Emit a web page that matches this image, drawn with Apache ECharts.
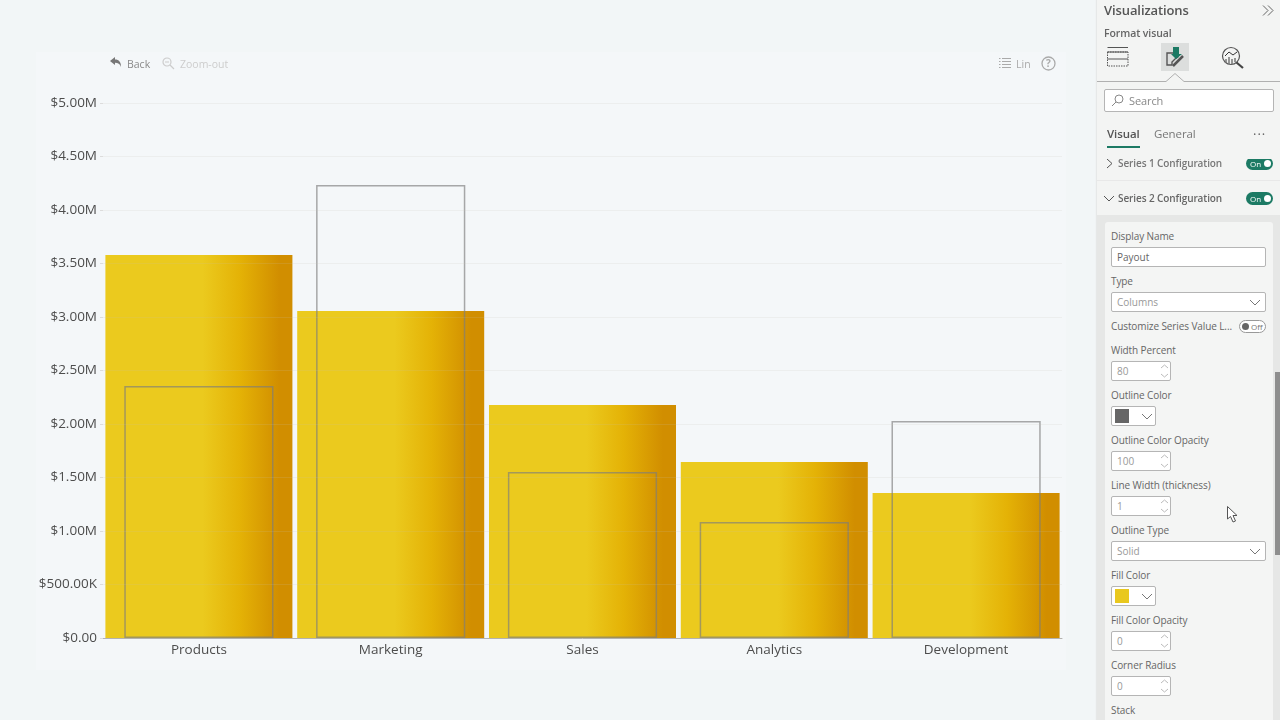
<!DOCTYPE html>
<html>
<head>
<meta charset="utf-8">
<title>Payout by department</title>
<script src="https://cdn.jsdelivr.net/npm/echarts@6/dist/echarts.min.js"></script>
<style>
  html, body { margin: 0; padding: 0; width: 1280px; height: 720px; overflow: hidden; background: #f2f6f7; font-family: "Open Sans", "Noto Sans", sans-serif; color: #555; }
  #area { position: absolute; left: 36px; top: 52px; width: 1030px; height: 618px; background: #f4f7f9; }
  #main { position: absolute; left: 0; top: 0; width: 1280px; height: 720px; }
  #tools, #panel { position: absolute; font-size: 10.5px; }
  #tools { left: 0; top: 0; }
  .t { position: absolute; white-space: nowrap; line-height: 14px; }
  #panel { left: 1097px; top: 0; width: 183px; height: 720px; background: #f3f4f3; box-shadow: -1px 0 1px #e6e8e8; overflow: hidden; }
  #panel .t { color: #666; font-size: 10px; letter-spacing: -0.1px; }
  .box { position: absolute; box-sizing: border-box; background: #fff; border: 1px solid #b5b5b5; border-radius: 2px; color: #999; font-size: 10px; line-height: 18px; padding-left: 5px; }
  .toggle { position: absolute; box-sizing: border-box; width: 27px; height: 13px; border-radius: 7px; background: #1c7a64; color: #fff; font-size: 8px; line-height: 13px; padding-left: 4px; }
  .toggle i { position: absolute; right: 2px; top: 3px; width: 7px; height: 7px; border-radius: 50%; background: #fff; }
  .off { background: #fff; border: 1px solid #999; color: #777; padding-left: 11px; line-height: 11px; }
  .off i { left: 2px; right: auto; top: 2px; background: #666; }
  svg { position: absolute; overflow: visible; }
</style>
</head>
<body>
<div id="area"></div>
<div id="main"></div>
<div id="tools">
  <svg style="left:109px;top:56px" width="13" height="13" viewBox="0 0 13 13"><path d="M1 5 L6 1 V3.5 C10 3.5 12 6 12 11 C11 8 9 6.8 6 6.8 V9 Z" fill="#777"/></svg>
  <div class="t" style="left:127px;top:57px;color:#8a8a8a">Back</div>
  <svg style="left:162px;top:57px" width="13" height="13" viewBox="0 0 13 13"><circle cx="5" cy="5" r="4" fill="none" stroke="#ccc" stroke-width="1.2"/><path d="M3 5 H7 M8 8 L12 12" stroke="#ccc" stroke-width="1.2"/></svg>
  <div class="t" style="left:180px;top:57px;color:#cdcdcd">Zoom-out</div>
  <svg style="left:999px;top:57px" width="12" height="12" viewBox="0 0 12 12"><path d="M0 1.5 H1.5 M3 1.5 H12 M0 4.5 H1.5 M3 4.5 H12 M0 7.5 H1.5 M3 7.5 H12 M0 10.5 H1.5 M3 10.5 H12" stroke="#aaa" stroke-width="1.2"/></svg>
  <div class="t" style="left:1016px;top:57px;color:#aaa">Lin</div>
  <svg style="left:1041px;top:56px" width="15" height="15" viewBox="0 0 15 15"><circle cx="7.5" cy="7.5" r="6.5" fill="none" stroke="#aaa" stroke-width="1.3"/><text x="7.5" y="11" font-size="10" font-weight="700" text-anchor="middle" fill="#aaa">?</text></svg>
</div>
<div id="panel"></div>

<script type="text/javascript">
var categories = ['Products', 'Marketing', 'Sales', 'Analytics', 'Development'];
var fillValues = [3580000, 3055000, 2178000, 1645000, 1355000];
var outlineValues = [2355000, 4234000, 1551000, 1084000, 2028000];
var yTicks = { min: 0, max: 5000000, step: 500000 };

function money(v) {
    if (v === 0) return '$0.00';
    if (v < 1000000) return '$' + (v / 1000).toFixed(2) + 'K';
    return '$' + (v / 1000000).toFixed(2) + 'M';
}

var myChart = echarts.init(document.getElementById('main'), null, { renderer: 'canvas' });
var axisFont = '"Open Sans", "Noto Sans", sans-serif';

var option = {
    animation: false,
    backgroundColor: 'transparent',
    grid: { left: 103, right: 218, top: 103, bottom: 82 },
    xAxis: [{
        type: 'category',
        data: categories,
        axisLine: { lineStyle: { color: '#b0b0b0', width: 1 } },
        axisTick: { show: false },
        axisLabel: { color: '#4d4d4d', fontSize: 13.5, fontFamily: axisFont, margin: 5 }
    }, {
        type: 'category',
        data: categories,
        show: false
    }],
    yAxis: {
        type: 'value',
        z: 3,
        min: yTicks.min,
        max: yTicks.max,
        interval: yTicks.step,
        axisLine: { show: false },
        axisTick: { show: true, length: 3, lineStyle: { color: '#dcdcdc' } },
        axisLabel: { color: '#4d4d4d', fontSize: 13.5, fontFamily: axisFont, margin: 6, padding: [4, 0, 0, 0], formatter: money },
        splitLine: { lineStyle: { color: 'rgba(200,195,180,0.16)', width: 1 } }
    },
    series: [{
        name: 'Revenue',
        type: 'bar',
        xAxisIndex: 0,
        data: fillValues,
        barWidth: '97.5%',
        itemStyle: {
            color: new echarts.graphic.LinearGradient(0, 0, 1, 0, [
                { offset: 0, color: '#ebca1e' },
                { offset: 0.52, color: '#ebca1e' },
                { offset: 0.72, color: '#e4b206' },
                { offset: 0.93, color: '#d18e00' },
                { offset: 1, color: '#d18e00' }
            ])
        }
    }, {
        name: 'Payout',
        type: 'bar',
        xAxisIndex: 1,
        data: outlineValues,
        barWidth: '77.8%',
        itemStyle: { color: 'transparent', borderColor: 'rgba(125,125,125,0.65)', borderWidth: 1.5 }
    }]
};
myChart.setOption(option);

// format pane on the right
var panel = document.getElementById('panel');
function add(html) { panel.insertAdjacentHTML('beforeend', html); }
function text(s, x, y, css) { add('<div class="t" style="left:' + (x - 1097) + 'px;top:' + (y - 7) + 'px;' + (css || '') + '">' + s + '</div>'); }
function box(s, x, y, w, h) { add('<div class="box" style="left:' + (x - 1097) + 'px;top:' + y + 'px;width:' + w + 'px;height:' + h + 'px">' + s + '</div>'); }
function chevron(x, y, c) { add('<svg style="left:' + (x - 1097) + 'px;top:' + y + 'px" width="12" height="7"><path d="M1 1 L6 6 L11 1" fill="none" stroke="' + (c || '#777') + '" stroke-width="1"/></svg>'); }
function spin(s, y) {
    box(s, 1111, y, 60, 20);
    add('<svg style="left:' + (1160 - 1097) + 'px;top:' + (y + 3) + 'px" width="9" height="14"><path d="M1 4 L4.5 1 L8 4 M1 10 L4.5 13 L8 10" fill="none" stroke="#bbb"/></svg>');
}
function swatch(color, y) {
    box('', 1111, y, 45, 20);
    add('<div style="position:absolute;left:' + (1115 - 1097) + 'px;top:' + (y + 3) + 'px;width:14px;height:14px;background:' + color + '"></div>');
    chevron(1141, y + 7);
}
function select(s, y) { box(s, 1111, y, 155, 20); chevron(1249, y + 7); }
function toggle(y) { add('<div class="toggle" style="left:' + (1246 - 1097) + 'px;top:' + y + 'px">On<i></i></div>'); }

text('Visualizations', 1104, 10, 'font-size:13px;font-weight:600;color:#555');
add('<svg style="left:' + (1262 - 1097) + 'px;top:5px" width="12" height="11"><path d="M1 0.5 L6 5.5 L1 10.5 M6 0.5 L11 5.5 L6 10.5" fill="none" stroke="#666"/></svg>');
text('Format visual', 1104, 33, 'font-size:10.5px;font-weight:600;color:#666');

// build tab icons
add('<svg style="left:' + (1107 - 1097) + 'px;top:47px" width="22" height="21"><path d="M0.5 0.5 H21 M0.5 5 H21 M0.5 12 H21" stroke="#555" fill="none"/><rect x="0.5" y="5" width="20.5" height="14" fill="none" stroke="#555" stroke-dasharray="1.5 1"/></svg>');
add('<div style="position:absolute;left:' + (1161 - 1097) + 'px;top:43px;width:28px;height:28px;background:#dcdedd"></div>');
add('<svg style="left:' + (1164 - 1097) + 'px;top:46px" width="22" height="22"><path d="M3 7 H10 V4 H14 V11 L11 13 L8 16 V19 H3 Z" fill="none" stroke="#555" stroke-width="1.4"/><path d="M9 1 H15 V8 H18 L12 13 L7 8 H9 Z" fill="#1c7a64"/><path d="M9 20 L19 10" stroke="#555" stroke-width="2.5"/></svg>');
add('<svg style="left:' + (1221 - 1097) + 'px;top:47px" width="23" height="22"><circle cx="10" cy="9" r="8.5" fill="none" stroke="#555" stroke-width="1.2"/><path d="M15.5 15.5 L22 21" stroke="#444" stroke-width="2.2"/><path d="M4 9 L8 5 L12 8 L16 5" fill="none" stroke="#333"/><path d="M5 16 V12 M8 17 V10 M11 17 V12 M14 15 V11" stroke="#777" stroke-width="1.5"/></svg>');
add('<svg style="left:0;top:73px" width="183" height="10"><path d="M0 8.5 H69 L78 0.5 L87 8.5 H183" fill="#f3f4f3" stroke="#b0b0b0"/></svg>');

box('', 1104, 89, 170, 23);
add('<svg style="left:' + (1111 - 1097) + 'px;top:94px" width="13" height="13"><circle cx="8" cy="5" r="4" fill="none" stroke="#888"/><path d="M5 8 L1 12" stroke="#888"/></svg>');
text('Search', 1129, 101, 'font-size:11px;color:#888');

text('Visual', 1107, 134, 'font-size:11.5px;font-weight:600;color:#555');
text('General', 1154, 134, 'font-size:11.5px;color:#777');
text('&middot;&middot;&middot;', 1253, 134, 'font-size:13px;letter-spacing:1px');
add('<div style="position:absolute;left:10px;top:146px;width:33px;height:1.5px;background:#1c7a64"></div>');

text('Series 1 Configuration', 1118, 163, 'font-size:10px;font-weight:600;color:#777');
add('<svg style="left:' + (1106 - 1097) + 'px;top:158px" width="7" height="11"><path d="M1 1 L6 5.5 L1 10" fill="none" stroke="#555"/></svg>');
toggle(157);
add('<div style="position:absolute;left:0;top:150px;width:183px;height:9px;background:#f3f4f3"></div>');
add('<div style="position:absolute;left:0;top:180px;width:183px;height:1px;background:#e8e8e8"></div>');
text('Series 2 Configuration', 1118, 198, 'font-size:10px;font-weight:600;color:#666');
chevron(1103, 195, '#555');
toggle(192);

// expanded section
add('<div style="position:absolute;left:0;top:215px;width:183px;height:505px;background:#e6e7e6"></div>');
add('<div style="position:absolute;left:8px;top:222px;width:168px;height:498px;background:#f4f5f4;border-radius:3px 3px 0 0"></div>');
add('<div style="position:absolute;left:178px;top:372px;width:5px;height:183px;background:#8e8e8e"></div>');

text('Display Name', 1111, 236);
box('<span style="color:#666">Payout</span>', 1111, 247, 155, 20);
text('Type', 1111, 281);
select('Columns', 292);
text('Customize Series Value L...', 1111, 326);
add('<div class="toggle off" style="left:' + (1239 - 1097) + 'px;top:320px">Off<i></i></div>');
text('Width Percent', 1111, 350);
spin('80', 361);
text('Outline Color', 1111, 395);
swatch('#666666', 406);
text('Outline Color Opacity', 1111, 440);
spin('100', 451);
text('Line Width (thickness)', 1111, 485);
spin('1', 496);
text('Outline Type', 1111, 530);
select('Solid', 541);
text('Fill Color', 1111, 575);
swatch('#e9c81e', 586);
text('Fill Color Opacity', 1111, 620);
spin('0', 631);
text('Corner Radius', 1111, 665);
spin('0', 676);
text('Stack', 1111, 710);

// mouse pointer
add('<svg style="left:' + (1227 - 1097) + 'px;top:506px" width="12" height="17"><path d="M0.5 0.5 V13 L3.5 10.5 L6 16 L8.5 15 L6 9.5 H10 Z" fill="#fff" stroke="#555"/></svg>');
</script>
</body>
</html>
